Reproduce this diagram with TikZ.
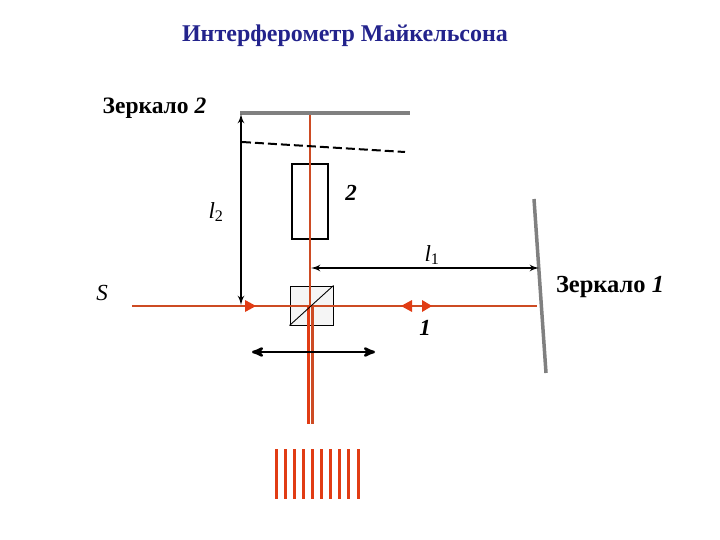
\documentclass[tikz,border=0pt]{standalone}
\usepackage{fontspec}
\setmainfont{Liberation Serif}
\usetikzlibrary{shapes,arrows}
\definecolor{beamcol}{RGB}{205,75,35}
\definecolor{brightcol}{RGB}{225,60,20}
\definecolor{titlecol}{RGB}{35,35,140}
\definecolor{mirrorcol}{RGB}{128,128,128}
\tikzstyle{beam} = [draw=beamcol, line width=2.7pt]
\tikzstyle{ray} = [draw=brightcol, line width=2.7pt]
\tikzstyle{mirror} = [draw=mirrorcol, line width=3.5pt]
\tikzstyle{line} = [draw, line width=2.2pt, latex'-latex']
\tikzstyle{label} = [inner sep=0pt, font=\fontsize{23}{23}\selectfont\itshape]
\tikzstyle{caption} = [inner sep=0pt, font=\fontsize{23.5}{23.5}\selectfont\bfseries]

\begin{document}
\begin{tikzpicture}[x=1pt, y=-1pt]
		\useasboundingbox (0,0) rectangle (720,540);

		\node [inner sep=0pt, text=titlecol, font=\fontsize{24}{24}\selectfont\bfseries] (title) at (345,35.5) {Интерферометр Майкельсона};
		\node [caption] (mirrorlabeltop) at (154.5,108) {Зеркало \textit{2}};
		\node [caption, font=\fontsize{24.5}{24.5}\selectfont\bfseries] (mirrorlabelright) at (610,287) {Зеркало \textit{1}};
		\node [label] (ltwo) at (216,212) {l\textsubscript{\normalfont 2}};
		\node [label] (lone) at (432,255) {l\textsubscript{\normalfont 1}};
		\node [label] (source) at (102,293) {S};
		\node [label, font=\fontsize{23}{23}\selectfont\bfseries\itshape] (armtwo) at (351,193) {2};
		\node [label, font=\fontsize{23}{23}\selectfont\bfseries\itshape] (armone) at (425,328) {1};

		\coordinate (mirrortopa) at (240,113);
		\coordinate (mirrortopb) at (410,113);
		\coordinate (tilta) at (242,142);
		\coordinate (tiltb) at (405,152);
		\coordinate (mirrorrighta) at (534,199);
		\coordinate (mirrorrightb) at (546,373);
		\coordinate (beamtop) at (310,113);
		\coordinate (beamcentre) at (310,306);
		\coordinate (beamstart) at (132,306);
		\coordinate (beamend) at (537,306);
		\coordinate (raystart) at (312.5,306);
		\coordinate (rayenda) at (308.5,424);
		\coordinate (rayendb) at (312.5,424);

		\node [draw, line width=2pt, minimum width=36pt, minimum height=75pt, inner sep=0pt] (plate) at (310,201.5) {};
		\node [draw, line width=1pt, fill=black!4, minimum width=43pt, minimum height=39pt, inner sep=0pt] (cube) at (311.5,305.5) {};

		\path [beam] (beamstart) -- (beamend);
		\path [beam] (beamtop) -- (beamcentre);
		\path [ray] (beamcentre -| rayenda) -- (rayenda);
		\path [beam] (raystart) -- (rayendb);
		\draw [line width=0.9pt] (cube.south west) -- (cube.north east);

		\path [mirror] (mirrortopa) -- (mirrortopb);
		\path [mirror] (mirrorrighta) -- (mirrorrightb);
		\draw [line width=2pt, dash pattern=on 9pt off 4pt] (tilta) -- (tiltb);

		\coordinate (ltwotop) at (241,114);
		\coordinate (ltwobot) at (241,305);
		\coordinate (lonea) at (311,268);
		\coordinate (loneb) at (539,268);
		\coordinate (lensa) at (252,352);
		\coordinate (lensb) at (375,352);
		\path [line] (ltwotop) -- (ltwobot);
		\path [line] (lonea) -- (loneb);
		\draw [line width=2.6pt, stealth'-stealth'] (lensa) -- (lensb);

		% beam direction marks
		\fill [brightcol] (256,306) -- (245,300) -- (245,312) -- cycle;
		\fill [brightcol] (401,306) -- (412,300) -- (412,312) -- cycle;
		\fill [brightcol] (432,306) -- (422,300) -- (422,312) -- cycle;

		% fringes
		\foreach \fx in {276,285,294,303,312,321,330,339,348,358}
			\draw [ray, line width=3pt] (\fx,449) -- (\fx,499);
	\end{tikzpicture}
\end{document}
